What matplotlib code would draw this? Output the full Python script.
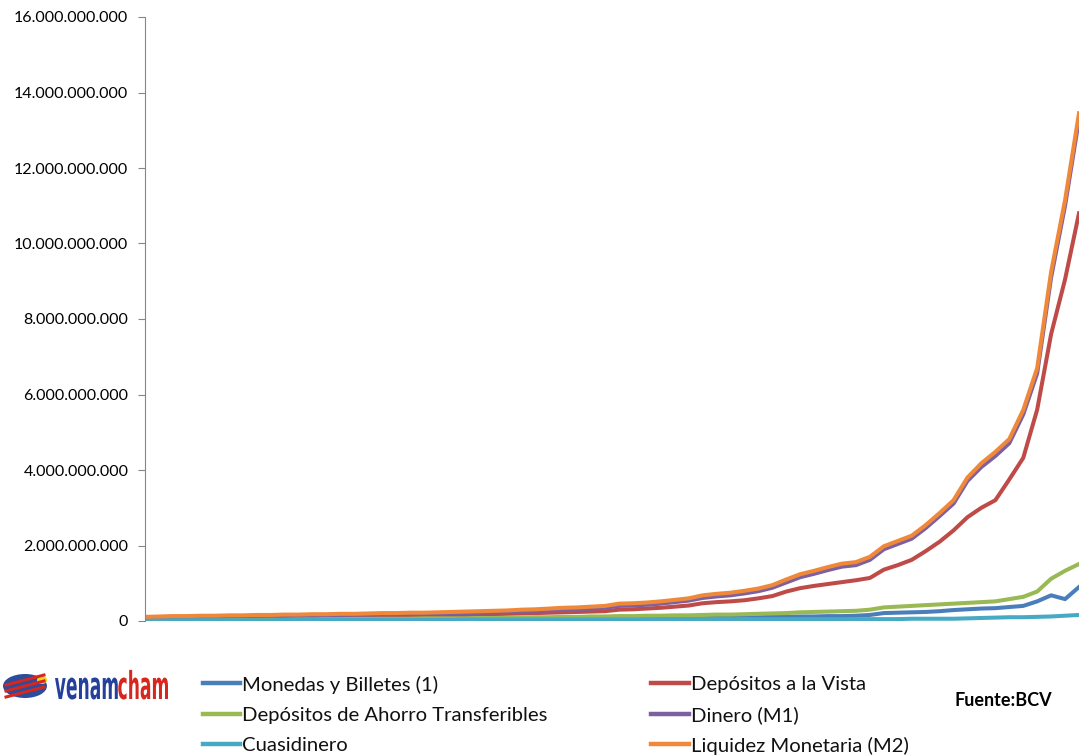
import numpy as np
import matplotlib
matplotlib.use("Agg")
import matplotlib.pyplot as plt
from matplotlib.ticker import FuncFormatter
from matplotlib.patches import Ellipse, PathPatch
from matplotlib.lines import Line2D
from matplotlib.textpath import TextPath
from matplotlib.font_manager import FontProperties
from matplotlib.transforms import Affine2D, IdentityTransform

# weekly observations, values in billions (1e9)
monedas = [0.03, 0.03, 0.03, 0.03, 0.04, 0.04, 0.04, 0.04, 0.04, 0.04,
           0.04, 0.04, 0.05, 0.05, 0.05, 0.05, 0.05, 0.05, 0.05, 0.05,
           0.05, 0.05, 0.05, 0.05, 0.06, 0.06, 0.06, 0.06, 0.06, 0.06,
           0.06, 0.06, 0.06, 0.06, 0.07, 0.07, 0.07, 0.07, 0.07, 0.08,
           0.08, 0.09, 0.09, 0.10, 0.10, 0.11, 0.11, 0.12, 0.12, 0.13,
           0.13, 0.14, 0.16, 0.21, 0.22, 0.23, 0.24, 0.26, 0.29, 0.31,
           0.33, 0.34, 0.37, 0.40, 0.52, 0.68, 0.58, 0.90]
depositos_vista = [0.06, 0.06, 0.07, 0.07, 0.08, 0.08, 0.09, 0.09, 0.10, 0.10,
                   0.10, 0.11, 0.11, 0.12, 0.12, 0.12, 0.13, 0.13, 0.14, 0.14,
                   0.15, 0.15, 0.16, 0.16, 0.17, 0.18, 0.19, 0.20, 0.21, 0.22,
                   0.23, 0.24, 0.25, 0.26, 0.30, 0.31, 0.33, 0.35, 0.38, 0.41,
                   0.47, 0.50, 0.52, 0.55, 0.60, 0.66, 0.78, 0.87, 0.93, 0.98,
                   1.03, 1.08, 1.14, 1.36, 1.48, 1.62, 1.85, 2.10, 2.40, 2.75,
                   3.00, 3.20, 3.75, 4.32, 5.60, 7.60, 9.05, 10.80]
ahorro = [0.03, 0.03, 0.03, 0.03, 0.04, 0.04, 0.04, 0.04, 0.04, 0.05,
          0.05, 0.05, 0.05, 0.05, 0.05, 0.06, 0.06, 0.06, 0.06, 0.06,
          0.07, 0.07, 0.07, 0.07, 0.08, 0.08, 0.09, 0.09, 0.10, 0.10,
          0.11, 0.11, 0.12, 0.12, 0.13, 0.13, 0.14, 0.14, 0.15, 0.15,
          0.16, 0.17, 0.17, 0.18, 0.19, 0.20, 0.21, 0.23, 0.24, 0.25,
          0.26, 0.27, 0.30, 0.36, 0.38, 0.40, 0.42, 0.44, 0.46, 0.48,
          0.50, 0.52, 0.58, 0.64, 0.78, 1.12, 1.33, 1.51]
dinero_m1 = [0.09, 0.10, 0.11, 0.11, 0.12, 0.12, 0.13, 0.13, 0.14, 0.14,
             0.14, 0.15, 0.15, 0.16, 0.16, 0.17, 0.17, 0.18, 0.18, 0.19,
             0.19, 0.20, 0.21, 0.21, 0.22, 0.23, 0.24, 0.26, 0.27, 0.28,
             0.30, 0.31, 0.33, 0.35, 0.40, 0.41, 0.43, 0.46, 0.50, 0.54,
             0.61, 0.65, 0.68, 0.73, 0.79, 0.88, 1.02, 1.16, 1.25, 1.35,
             1.44, 1.48, 1.62, 1.90, 2.04, 2.18, 2.46, 2.78, 3.11, 3.71,
             4.08, 4.37, 4.71, 5.47, 6.56, 9.10, 11.00, 13.29]
cuasidinero = [0.02, 0.02, 0.02, 0.02, 0.02, 0.02, 0.02, 0.02, 0.02, 0.02,
               0.03, 0.03, 0.03, 0.03, 0.03, 0.03, 0.03, 0.03, 0.03, 0.03,
               0.03, 0.03, 0.03, 0.04, 0.04, 0.04, 0.04, 0.04, 0.04, 0.04,
               0.04, 0.04, 0.04, 0.04, 0.04, 0.04, 0.04, 0.05, 0.05, 0.05,
               0.05, 0.05, 0.05, 0.05, 0.05, 0.05, 0.05, 0.05, 0.05, 0.05,
               0.05, 0.05, 0.05, 0.05, 0.05, 0.06, 0.06, 0.06, 0.06, 0.07,
               0.08, 0.09, 0.10, 0.10, 0.11, 0.12, 0.14, 0.16]
liquidez_m2 = [0.11, 0.12, 0.13, 0.13, 0.14, 0.14, 0.15, 0.15, 0.16, 0.16,
               0.17, 0.17, 0.18, 0.18, 0.19, 0.19, 0.20, 0.21, 0.21, 0.22,
               0.22, 0.23, 0.24, 0.25, 0.26, 0.27, 0.28, 0.30, 0.31, 0.33,
               0.35, 0.36, 0.38, 0.40, 0.46, 0.47, 0.49, 0.52, 0.56, 0.60,
               0.68, 0.72, 0.75, 0.80, 0.86, 0.95, 1.10, 1.24, 1.33, 1.43,
               1.52, 1.56, 1.70, 1.98, 2.12, 2.26, 2.54, 2.86, 3.20, 3.80,
               4.18, 4.48, 4.82, 5.59, 6.70, 9.25, 11.15, 13.45]

labels = ["Monedas y Billetes (1)", "Depósitos a la Vista",
          "Depósitos de Ahorro Transferibles", "Dinero (M1)",
          "Cuasidinero", "Liquidez Monetaria (M2)"]
colors = ["#4A7EBB", "#BE4B48", "#98B954", "#7D60A0", "#46AAC5", "#F0883A"]
series = [monedas, depositos_vista, ahorro, dinero_m1, cuasidinero, liquidez_m2]

W, H = 1079, 755
fig = plt.figure(figsize=(W / 100, H / 100), dpi=100)
ax = fig.add_axes([145 / W, 1 - 621 / H, 1 - 145 / W, (621 - 17) / H])

x = np.arange(len(liquidez_m2))
for lab, col, vals in zip(labels, colors, series):
    ax.plot(x, np.array(vals) * 1e9, color=col, lw=2.9,
            solid_joinstyle="round", label=lab)

ax.set_xlim(0, len(x) - 1)
ax.set_ylim(0, 16e9)
ax.set_yticks(np.arange(0, 16.1e9, 2e9))
ax.yaxis.set_major_formatter(FuncFormatter(lambda v, p: "{:,.0f}".format(v).replace(",", ".")))
ax.set_xticks([])
for s in ["top", "right", "bottom"]:
    ax.spines[s].set_visible(False)
ax.spines["left"].set_color("#868686")
ax.tick_params(axis="y", direction="out", length=5, color="#868686",
               labelsize=11.5, pad=7)
for t in ax.get_yticklabels():
    t.set_fontfamily("Lato")

# legend drawn by hand: two columns, three rows
col_x = [(203, 240, 242), (651, 689, 691)]
row_y = [683, 714, 744]
legend_cells = [(0, 0, 0), (1, 0, 1), (2, 1, 0), (3, 1, 1), (4, 2, 0), (5, 2, 1)]
for idx, r, c in legend_cells:
    x0, x1, xt = col_x[c]
    yf = 1 - row_y[r] / H
    fig.add_artist(Line2D([x0 / W, x1 / W], [yf, yf], transform=fig.transFigure,
                          color=colors[idx], lw=3.2))
    fig.text(xt / W, yf, labels[idx], fontsize=14.6, family="Lato",
             ha="left", va="center_baseline", color="#111111")

fig.text(955 / W, 1 - 700 / H, "Fuente:BCV", fontsize=13, fontweight="bold",
         family="Lato", ha="left", va="center")

# logo: emblem + condensed word mark
logo_y = 1 - 686 / H
fig.patches.append(Ellipse((25 / W, logo_y), 44 / W, 24 / H, transform=fig.transFigure,
                           facecolor="#2C4C9C", edgecolor="none"))
for dy in (-6, 0, 6):
    fig.add_artist(Line2D([6 / W, 44 / W], [logo_y + (dy - 5) / H, logo_y + (dy + 5) / H],
                          transform=fig.transFigure, color="#D7261E", lw=2.2))
fig.patches.append(Ellipse((42 / W, logo_y + 6 / H), 10 / W, 8 / H, transform=fig.transFigure,
                           facecolor="#F2D31B", edgecolor="none"))

fp = FontProperties(family="DejaVu Sans", weight="bold")
p1 = TextPath((0, 0), "venam", size=10, prop=fp)
p2 = TextPath((0, 0), "cham", size=10, prop=fp)
e1 = p1.get_extents()
e2 = p2.get_extents()
total_w = e1.width + e2.width + 0.3
sx = 113 / total_w
sy = 22 / e1.height
base_px = H - 699
tr1 = Affine2D().translate(-e1.x0, 0).scale(sx, sy).translate(55, base_px)
tr2 = Affine2D().translate(-e2.x0, 0).scale(sx, sy).translate(55 + (e1.width + 0.3) * sx, base_px)
fig.patches.append(PathPatch(tr1.transform_path(p1), facecolor="#24409A", edgecolor="none",
                             transform=IdentityTransform()))
fig.patches.append(PathPatch(tr2.transform_path(p2), facecolor="#D7261E", edgecolor="none",
                             transform=IdentityTransform()))

fig.savefig("out.png", dpi=100)
